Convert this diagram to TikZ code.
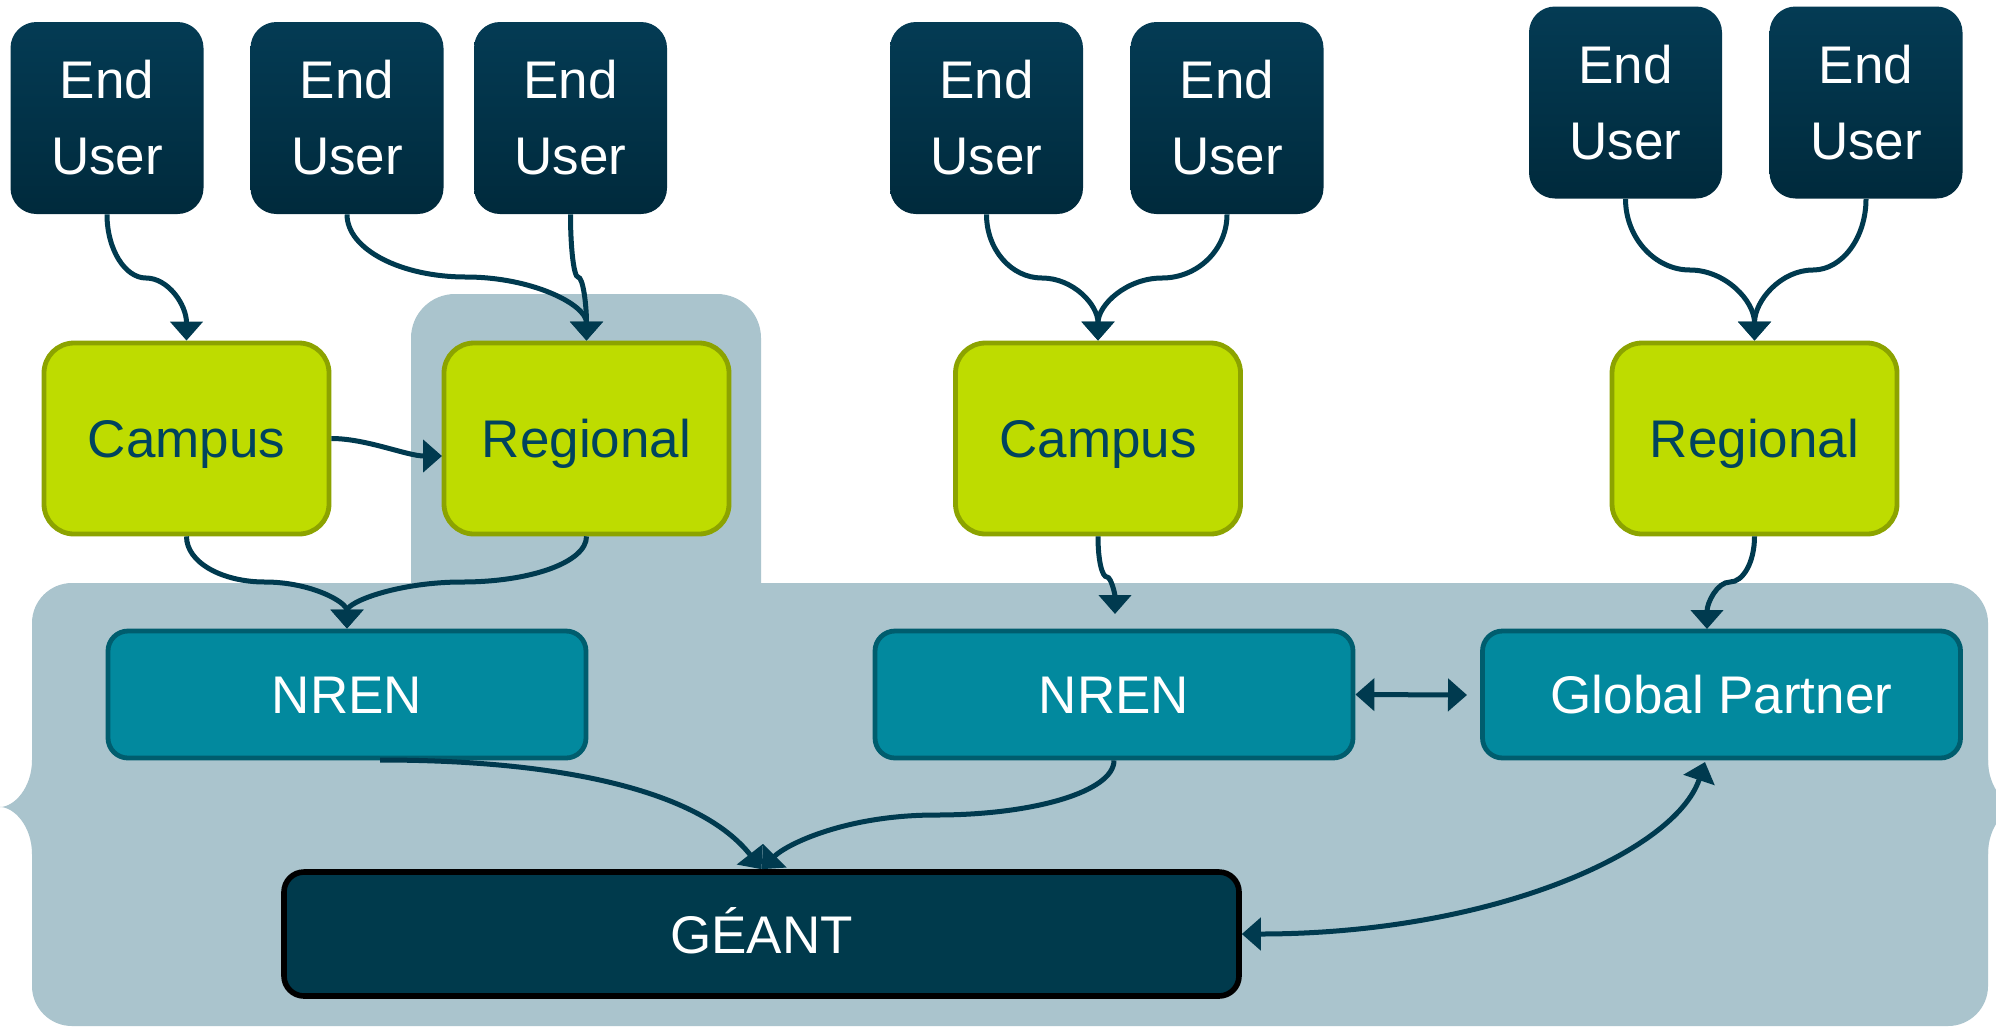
\documentclass[tikz,border=0pt]{standalone}
\usepackage{fontspec}
\setmainfont{Liberation Sans}
\usetikzlibrary{arrows.meta,calc}
\definecolor{euTop}{HTML}{043B54}
\definecolor{euBot}{HTML}{002A3C}
\definecolor{greenFill}{HTML}{BEDC00}
\definecolor{greenLine}{HTML}{8CA300}
\definecolor{greenText}{HTML}{00435E}
\definecolor{tealFill}{HTML}{02899E}
\definecolor{tealLine}{HTML}{005D6E}
\definecolor{geantFill}{HTML}{003A4C}
\definecolor{panelC}{HTML}{AAC4CD}
\definecolor{arrowC}{HTML}{003A4F}
\begin{document}
\begin{tikzpicture}[x=0.5pt,y=-0.5pt,
  txt/.style={font=\fontsize{26.5pt}{38pt}\selectfont},
  eubox/.style={txt, draw=none, rounded corners=13pt, top color=euTop, bottom color=euBot,
    minimum width=96.5pt, minimum height=96pt, inner sep=0pt, text=white, align=center},
  greenbox/.style={txt, draw=greenLine, line width=2.4pt, fill=greenFill, rounded corners=15pt,
    minimum width=142.5pt, minimum height=95.5pt, inner sep=0pt, text=greenText,
    text height=19pt, text depth=0pt},
  tealbox/.style={txt, draw=tealLine, line width=2.4pt, fill=tealFill, rounded corners=10pt,
    minimum width=239pt, minimum height=63.5pt, inner sep=0pt, text=white,
    text height=19pt, text depth=0pt},
  geantbox/.style={txt, draw=black, line width=2.8pt, fill=geantFill, rounded corners=10pt,
    minimum width=477.5pt, minimum height=62pt, inner sep=0pt, text=white,
    text height=19pt, text depth=0pt},
  conn/.style={draw=arrowC, line width=2.5pt, -{Triangle[width=16pt,length=9.5pt]}},
  dconn/.style={draw=arrowC, line width=2.5pt, {Triangle[width=16pt,length=9.5pt]}-{Triangle[width=16pt,length=9.5pt]}}
]
\useasboundingbox (0,0) rectangle (1996,1029);
\clip (0,0) rectangle (1996,1029);
\fill[white] (0,0) rectangle (1996,1029);

% background panel
\fill[panelC, rounded corners=20pt] (32,583) rectangle (1988,1026);
\fill[panelC, rounded corners=22pt] (411,294) rectangle (761,700);
\fill[panelC] (40,760) -- (32,760) .. controls (32,788) and (14,807) .. (0,807)
   .. controls (14,807) and (32,826) .. (32,854) -- (40,854) -- cycle;
\fill[panelC] (1980,760) -- (1988,760) .. controls (1988,788) and (2006,807) .. (2020,807)
   .. controls (2006,807) and (1988,826) .. (1988,854) -- (1980,854) -- cycle;

% end users
\node[eubox] (eu1) at (107,118) {End\\User};
\node[eubox] (eu2) at (347,118) {End\\User};
\node[eubox] (eu3) at (570.5,118) {End\\User};
\node[eubox] (eu4) at (986.5,118) {End\\User};
\node[eubox] (eu5) at (1227,118) {End\\User};
\node[eubox] (eu6) at (1625.5,102.5) {End\\User};
\node[eubox] (eu7) at (1866,102.5) {End\\User};

% campus / regional
\node[greenbox] (campus1) at (186.5,438.5) {Campus};
\node[greenbox] (regional1) at (586.5,438.5) {Regional};
\node[greenbox] (campus2) at (1098,438.5) {Campus};
\node[greenbox] (regional2) at (1754.5,438.5) {Regional};

% NRENs
\node[tealbox] (nren1) at (347,694.5) {NREN};
\node[tealbox] (nren2) at (1114,694.5) {NREN};
\node[tealbox] (gp) at (1721.5,694.5) {Global Partner};

% GEANT
\node[geantbox] (geant) at (761.5,934) {GÉANT};

% waypoints
\coordinate (m1) at (146,278);
\coordinate (m2) at (466,277);
\coordinate (m3) at (578,277);
\coordinate (r1w) at (442,456);
\coordinate (m5) at (265,582);
\coordinate (m6) at (462,582);
\coordinate (m7) at (1107,577);
\coordinate (n2t) at (1115,614);
\coordinate (m8) at (1730,582);
\coordinate (gpt) at (1707,629);
\coordinate (gpw) at (1467,695);
\coordinate (n1b) at (380,760);
\coordinate (m11) at (936,815);
\coordinate (gpb) at (1705,762);
\coordinate (m13) at (1690,270);
\coordinate (m14) at (1813,270);
\coordinate (m15) at (1042,278);
\coordinate (m16) at (1162,278);

% connectors
\draw[conn] (eu1.south) .. controls +(0,35) and +(-21,0) .. (m1)
  .. controls +(22,0) and +(0,-36) .. (campus1.north);
\draw[conn] (eu2.south) .. controls +(0,35) and +(-65,0) .. (m2)
  .. controls +(66,0) and +(0,-36) .. (regional1.north);
\draw[conn] (eu3.south) .. controls +(0,35) and +(-4,0) .. (m3)
  .. controls +(5,0) and +(0,-36) .. (regional1.north);
\draw[conn] (campus1.east) .. controls +(35,0) and +(-35,0) .. (r1w);
\draw[conn] (campus1.south) .. controls +(0,26) and +(-43,0) .. (m5)
  .. controls +(45,0) and +(0,-27) .. (nren1.north);
\draw[conn] (regional1.south) .. controls +(0,26) and +(68,0) .. (m6)
  .. controls +(-63,0) and +(0,-27) .. (nren1.north);
\draw[conn] (eu4.south) .. controls +(0,35) and +(-31,0) .. (m15)
  .. controls +(31,0) and +(0,-36) .. (campus2.north);
\draw[conn] (eu5.south) .. controls +(0,35) and +(36,0) .. (m16)
  .. controls +(-35,0) and +(0,-36) .. (campus2.north);
\draw[conn] (campus2.south) .. controls +(0,24) and +(-5,0) .. (m7)
  .. controls +(4,0) and +(0,-20) .. (n2t);
\draw[conn] (eu6.south) .. controls +(0,39) and +(-35,0) .. (m13)
  .. controls +(35,0) and +(0,-40) .. (regional2.north);
\draw[conn] (eu7.south) .. controls +(0,39) and +(29,0) .. (m14)
  .. controls +(-32,0) and +(0,-40) .. (regional2.north);
\draw[conn] (regional2.south) .. controls +(0,26) and +(13,0) .. (m8)
  .. controls +(-13,0) and +(0,-26) .. (gpt);
\draw[dconn] (nren2.east) -- (gpw);
\draw[conn] (n1b) .. controls +(180,0) and +(-62,-79) .. (geant.north);
\draw[conn] (nren2.south) .. controls +(0,31) and +(98,0) .. (m11)
  .. controls +(-90,0) and +(25,-25) .. (geant.north);
\draw[dconn] (geant.east) .. controls +(250,0) and +(-30,90) .. (gpb);
\end{tikzpicture}
\end{document}
